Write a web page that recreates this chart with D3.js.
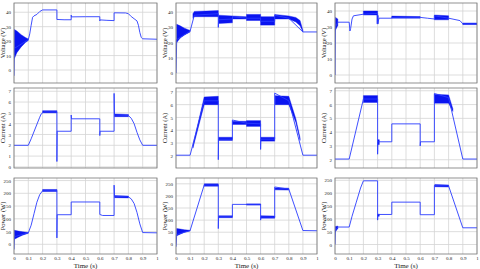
<!DOCTYPE html>
<html>
<head>
<meta charset="utf-8">
<script src="https://cdn.jsdelivr.net/npm/d3@7"></script>
<style>
  body { margin: 0; background: #fff; }
  svg { display: block; }
  text { font-family: "Liberation Serif", "DejaVu Serif", serif; fill: #222; }
</style>
</head>
<body>
<div id="chart"></div>
<script>
// time axis
const timeTicks = [0, 0.1, 0.2, 0.3, 0.4, 0.5, 0.6, 0.7, 0.8, 0.9, 1];
const voltTicks = [0, 10, 20, 30, 40];
const currTicksA = [0, 1, 2, 3, 4, 5, 6, 7];
const currTicksB = [2, 3, 4, 5, 6, 7];
const powTicks = [0, 50, 100, 150, 200, 250];

// column 1
const volt1 = [[0,-4],[0.003,15],[0.1,21],[0.11,25],[0.12,31],[0.13,36.5],[0.14,37.5],[0.16,38.5],[0.18,40.5],[0.2,41.6],[0.3,41.6],[0.3,35],[0.35,34.8],[0.4,34.8],[0.4,38],[0.402,36.8],[0.5,36.9],[0.6,36.9],[0.6,34],[0.602,34.7],[0.65,34.4],[0.7,34.2],[0.7,39.6],[0.78,39.5],[0.8,39],[0.82,37],[0.84,35.5],[0.86,34],[0.87,31],[0.88,26],[0.89,22.5],[0.9,21.6],[1,21.3]];
const volt1Bands = [
  [[0.003,8,28],[0.02,12,27],[0.05,16,24.5],[0.08,19,22.5],[0.1,20.5,21.5]]
];
const curr1 = [[0,2],[0.1,2],[0.12,2.6],[0.15,3.6],[0.18,4.6],[0.19,4.9],[0.21,5.1],[0.3,5.1],[0.3,0.5],[0.302,3.3],[0.4,3.3],[0.4,4.8],[0.402,4.45],[0.6,4.45],[0.6,2.9],[0.602,3.3],[0.7,3.3],[0.7,6.8],[0.703,4.8],[0.8,4.75],[0.82,4.5],[0.84,4.0],[0.86,3.2],[0.88,2.5],[0.9,2.0],[1,2.0]];
const curr1Bands = [
  [[0.2,5.0,5.2],[0.3,5.0,5.2]],
  [[0.703,4.65,4.9],[0.8,4.65,4.85]]
];
const pow1 = [[0,-20],[0.003,30],[0.1,45],[0.12,75],[0.14,120],[0.16,165],[0.18,195],[0.2,210],[0.3,211],[0.3,25],[0.302,116],[0.4,116],[0.4,166],[0.6,166],[0.6,117],[0.62,113],[0.7,113],[0.7,232],[0.703,188],[0.8,186],[0.82,178],[0.84,160],[0.86,125],[0.88,80],[0.9,46],[1,45]];
const pow1Bands = [
  [[0.003,20,55],[0.03,28,52],[0.06,36,49],[0.1,43,46]],
  [[0.2,207,215],[0.3,207,215]],
  [[0.703,183,191],[0.8,182,189]]
];

// column 2
const volt2 = [[0,0],[0.005,22],[0.1,27.5],[0.13,38],[0.3,39],[0.3,30],[0.302,35],[0.4,35.5],[0.4,37],[0.5,36],[0.6,36],[0.6,34],[0.7,34],[0.7,38],[0.8,36],[0.9,27],[1,27]];
const volt2Bands = [
  [[0.005,20,32],[0.03,23,31],[0.06,25,29.5],[0.1,27,28]],
  [[0.12,36,39],[0.13,37,40.5],[0.3,37,41]],
  [[0.302,32.5,38],[0.4,33,37.5]],
  [[0.4,35.5,37.5],[0.5,35.5,37]],
  [[0.5,34.5,38.5],[0.6,34.5,38.5]],
  [[0.6,31.5,37],[0.7,31.5,37]],
  [[0.7,35.5,38.5],[0.8,35.5,37.5],[0.85,33.5,36.5],[0.88,31,34.5],[0.9,27,28]]
];
const curr2 = [[0,2.05],[0.1,2.05],[0.2,6.3],[0.3,6.3],[0.3,1.7],[0.302,3.3],[0.4,3.3],[0.4,4.8],[0.5,4.55],[0.6,4.5],[0.6,2.5],[0.602,3.3],[0.7,3.3],[0.7,6.9],[0.8,6.3],[0.9,2.05],[1,2.05]];
const curr2Bands = [
  [[0.12,2.6,2.8],[0.2,6.0,6.6],[0.3,6.0,6.65]],
  [[0.302,3.2,3.45],[0.4,3.2,3.45]],
  [[0.4,4.45,4.7],[0.5,4.45,4.7]],
  [[0.5,4.3,4.75],[0.6,4.3,4.75]],
  [[0.602,3.15,3.45],[0.7,3.15,3.45]],
  [[0.703,6.0,6.7],[0.8,6.0,6.65],[0.85,4.6,4.9],[0.88,3.2,3.4]]
];
const pow2 = [[0,-10],[0.005,40],[0.1,57],[0.2,245],[0.3,245],[0.3,65],[0.302,114],[0.4,114],[0.4,165],[0.6,165],[0.6,100],[0.602,113],[0.7,112],[0.7,237],[0.8,228],[0.9,57],[1,56]];
const pow2Bands = [
  [[0.005,35,65],[0.03,42,63],[0.06,50,60],[0.1,55,58]],
  [[0.2,240,250],[0.3,240,250]],
  [[0.302,110,118],[0.4,110,118]],
  [[0.5,162,167],[0.6,162,167]],
  [[0.602,108,118],[0.7,108,117]],
  [[0.703,225,233],[0.8,224,232]]
];

// column 3
const volt3 = [[0,0],[0.003,30],[0.02,33],[0.1,33],[0.105,27.5],[0.11,29],[0.12,35],[0.13,37],[0.2,38],[0.3,38.5],[0.3,32],[0.31,35.5],[0.4,35.5],[0.4,36],[0.6,36],[0.65,35.5],[0.7,35],[0.7,37],[0.8,35.5],[0.88,34],[0.9,32],[1,32]];
const volt3Bands = [
  [[0.003,28,36],[0.02,31,35]],
  [[0.2,37.5,40],[0.3,37.5,40]],
  [[0.295,32,38],[0.305,32,37]],
  [[0.4,35.5,36.8],[0.6,35.5,36.5]],
  [[0.7,34.5,37.5],[0.8,34.5,37]],
  [[0.9,31.5,32.5],[1,31.5,32.5]]
];
const curr3 = [[0,2.05],[0.1,2.05],[0.2,6.4],[0.3,6.4],[0.3,2.4],[0.302,3.3],[0.4,3.3],[0.4,4.6],[0.6,4.6],[0.6,3.0],[0.602,3.3],[0.7,3.3],[0.7,6.8],[0.8,6.5],[0.9,2.05],[1,2.05]];
const curr3Bands = [
  [[0.2,6.15,6.65],[0.3,6.15,6.65]],
  [[0.302,3.1,3.45],[0.312,3.1,3.45]],
  [[0.7,6.1,6.75],[0.8,6.1,6.7],[0.83,5.5,5.7]]
];
const pow3 = [[0,0],[0.003,55],[0.02,68],[0.1,68],[0.12,110],[0.15,165],[0.18,220],[0.2,248],[0.3,248],[0.3,95],[0.302,117],[0.4,117],[0.4,165],[0.6,165],[0.6,116],[0.7,116],[0.7,230],[0.8,228],[0.9,65],[1,65]];
const pow3Bands = [
  [[0.003,50,70],[0.02,62,72]],
  [[0.302,110,118],[0.312,110,118]],
  [[0.703,225,234],[0.8,224,232]]
];

const W = 480, H = 269;
const svg = d3.select("#chart").append("svg")
  .attr("width", W).attr("height", H);

const colX = [[14,157],[176,317],[335,477]];
const rowY = [[3,83],[88,168],[178,254]];

const panels = [
  {c:0, r:0, data:volt1, bands:volt1Bands, dom:[-9,46.4], ticks:voltTicks, label:"Voltage (V)"},
  {c:0, r:1, data:curr1, bands:curr1Bands, dom:[-0.1,7.3], ticks:currTicksA, label:"Current (A)"},
  {c:0, r:2, data:pow1, bands:pow1Bands, dom:[-38,260], ticks:powTicks, label:"Power (W)"},
  {c:1, r:0, data:volt2, bands:volt2Bands, dom:[-6.5,46], ticks:voltTicks, label:"Voltage (V)"},
  {c:1, r:1, data:curr2, bands:curr2Bands, dom:[1.05,7.3], ticks:currTicksB, label:"Current (A)"},
  {c:1, r:2, data:pow2, bands:pow2Bands, dom:[-40,274], ticks:powTicks, label:"Power (W)"},
  {c:2, r:0, data:volt3, bands:volt3Bands, dom:[-5,45], ticks:voltTicks, label:"Voltage (V)"},
  {c:2, r:1, data:curr3, bands:curr3Bands, dom:[1.4,7.2], ticks:currTicksB, label:"Current (A)"},
  {c:2, r:2, data:pow3, bands:pow3Bands, dom:[-37,259], ticks:powTicks, label:"Power (W)"}
];

panels.forEach((p, i) => {
  const [x0, x1] = colX[p.c];
  const [y0, y1] = rowY[p.r];
  const x = d3.scaleLinear().domain([0, 1]).range([x0, x1]);
  const y = d3.scaleLinear().domain(p.dom).range([y1, y0]);
  const g = svg.append("g");

  g.append("rect")
    .attr("x", x0).attr("y", y0)
    .attr("width", x1 - x0).attr("height", y1 - y0)
    .attr("fill", "#fff");

  // grid
  g.selectAll(".gx").data(timeTicks).enter().append("line")
    .attr("x1", d => x(d)).attr("x2", d => x(d))
    .attr("y1", y0).attr("y2", y1)
    .attr("stroke", "#d4d4d4").attr("stroke-width", 0.8);
  g.selectAll(".gy").data(p.ticks).enter().append("line")
    .attr("x1", x0).attr("x2", x1)
    .attr("y1", d => y(d)).attr("y2", d => y(d))
    .attr("stroke", "#d4d4d4").attr("stroke-width", 0.8);

  const clipId = "clip" + i;
  svg.append("clipPath").attr("id", clipId)
    .append("rect").attr("x", x0).attr("y", y0)
    .attr("width", x1 - x0).attr("height", y1 - y0);

  const plot = g.append("g").attr("clip-path", `url(#${clipId})`);

  const area = d3.area()
    .x(d => x(d[0])).y0(d => y(d[1])).y1(d => y(d[2]));
  plot.selectAll(".band").data(p.bands).enter().append("path")
    .attr("d", area)
    .attr("fill", "#0a14f0")
    .attr("stroke", "#0a14f0").attr("stroke-width", 0.4);

  const line = d3.line().x(d => x(d[0])).y(d => y(d[1]));
  plot.append("path").datum(p.data)
    .attr("d", line)
    .attr("fill", "none")
    .attr("stroke", "#2a3cff")
    .attr("stroke-width", 0.9);

  // frame
  g.append("rect")
    .attr("x", x0).attr("y", y0)
    .attr("width", x1 - x0).attr("height", y1 - y0)
    .attr("fill", "none").attr("stroke", "#777").attr("stroke-width", 0.8);

  // y ticks
  const yAxis = d3.axisLeft(y).tickValues(p.ticks)
    .tickFormat(d3.format("~g")).tickSize(0).tickPadding(3);
  const ya = g.append("g").attr("transform", `translate(${x0},0)`).call(yAxis);
  ya.select(".domain").remove();
  ya.selectAll("text").style("font-size", "5px")
    .style("font-family", "Liberation Serif, serif").attr("fill", "#333");

  // y label
  g.append("text")
    .attr("transform", `translate(${x0 - 9},${(y0 + y1) / 2}) rotate(-90)`)
    .attr("text-anchor", "middle")
    .style("font-size", "6.5px")
    .text(p.label);

  if (p.r === 2) {
    const xAxis = d3.axisBottom(x).tickValues(timeTicks)
      .tickFormat(d3.format("~g")).tickSize(0).tickPadding(2);
    const xa = g.append("g").attr("transform", `translate(0,${y1})`).call(xAxis);
    xa.select(".domain").remove();
    xa.selectAll("text").style("font-size", "5px")
      .style("font-family", "Liberation Serif, serif").attr("fill", "#333");
    g.append("text")
      .attr("x", (x0 + x1) / 2).attr("y", 268)
      .attr("text-anchor", "middle")
      .style("font-size", "7px")
      .text("Time (s)");
  }
});
</script>
</body>
</html>
